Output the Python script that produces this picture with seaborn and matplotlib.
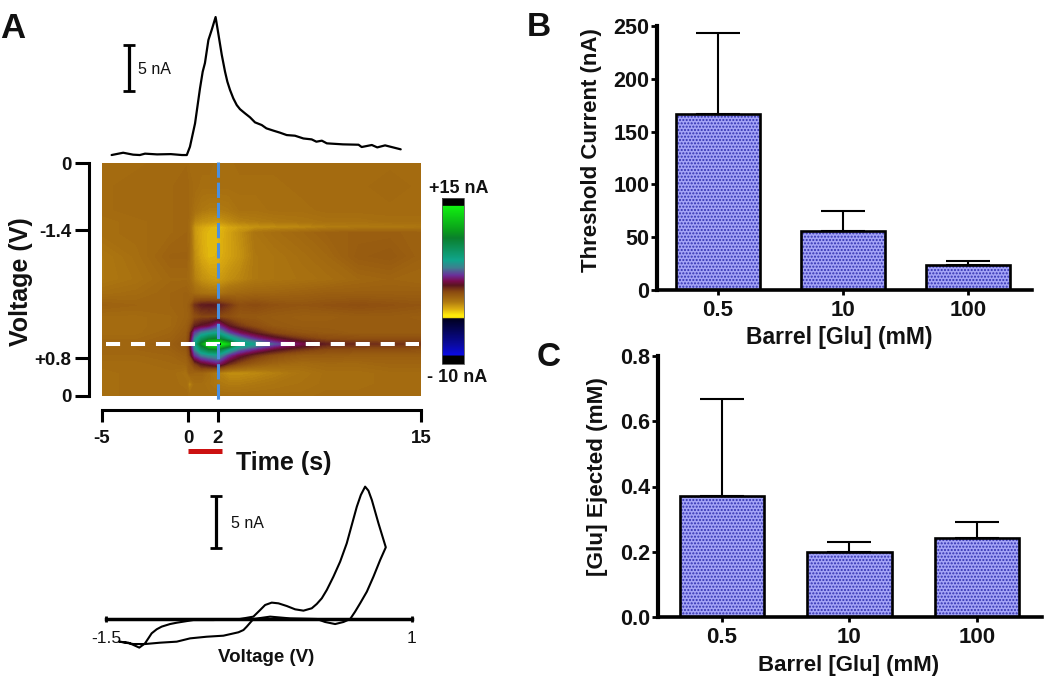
import matplotlib

matplotlib.use("Agg")
import matplotlib.pyplot as plt
import numpy as np
import seaborn as sns
from matplotlib.cm import ScalarMappable
from matplotlib.colors import LinearSegmentedColormap, Normalize

W, H = 1050, 687

# panel A, top trace
trace_t = [-4.44, -3.77, -3.19, -2.8, -2.5, -1.8, -1.0, -0.35, -0.07, 0.13, 0.47, 0.8, 0.98, 1.13, 1.36, 1.58, 1.84,
           2.02, 2.24, 2.45, 2.6, 2.77, 2.98, 3.2, 3.41, 3.73, 4.05, 4.37, 4.8, 5.1, 5.55, 5.97, 6.4, 6.93,
           7.47, 8.0, 8.3, 8.65, 8.97, 10.0, 11.0, 11.2, 11.85, 12.2, 12.7, 13.7]
trace_na = [0, 0.25, 0.04, 0, 0.15, 0.07, 0.1, 0, 0, 0.9, 3.44, 7.25, 9.06, 10, 12.5, 13.6, 15,
            13.2, 10.9, 9.06, 7.97, 7.07, 6.16, 5.43, 4.98, 4.53, 4.1, 3.55, 3.26, 2.9, 2.65, 2.43, 2.17, 2.1,
            1.8, 1.7, 1.45, 1.56, 1.27, 1.16, 1.12, 0.87, 1.09, 0.83, 1.05, 0.62]

# panel A, colour plot (nA), rows = position in the scan (%), columns = time (s)
heat_t = [-5, -3, -1, -0.1, 0.1, 0.45, 0.9, 1.4, 2, 2.7, 3.4, 4.4, 5.6, 7.4, 9, 11, 13, 15]
heat_scan = [0, 10, 20, 25, 27.5, 30, 40, 50, 56, 61, 66, 70, 73, 75.5, 77.7, 80, 82.5, 86, 90, 95, 100]
heat_na = [
    [-.2, -.2, -.1, -.1, -.2, -.2, -.2, -.2, -.3, -.3, -.2, -.2, -.2, -.2, -.2, -.2, -.2, -.2],
    [-.2, -.1, -.1, 0, -.1, -.2, -.3, -.3, -.3, -.3, -.3, -.3, -.3, -.2, -.2, -.2, -.1, -.2],
    [-.2, -.1, -.1, 0, -.1, -.4, -.6, -.7, -.7, -.6, -.4, -.4, -.3, -.3, -.2, -.2, -.2, -.2],
    [-.3, -.2, -.1, 0, -.2, -.9, -1.1, -1.2, -1.3, -1.0, -.8, -.7, -.6, -.5, -.4, -.4, -.3, -.3],
    [-.3, -.2, -.1, 0, -.3, -1.3, -1.6, -1.8, -2.0, -1.6, -1.4, -1.2, -1.1, -1.0, -.8, -.7, -.7, -.6],
    [-.3, -.2, -.1, 0, -.2, -1.3, -1.7, -1.9, -1.9, -1.5, -1.1, -.5, -.3, -.1, .1, .2, .2, .1],
    [-.6, -.3, .1, .1, -.2, -1.1, -1.6, -1.9, -1.8, -1.5, -1.2, -.6, -.5, -.3, -.1, .3, .4, .1],
    [-.6, -.4, -.1, -.1, -.2, -.8, -1.1, -1.3, -1.4, -1.1, -.9, -.6, -.5, -.4, -.3, -.1, 0, -.1],
    [-.3, -.2, 0, .1, 0, -.2, -.4, -.5, -.5, -.2, -.1, 0, 0, .1, .2, .2, .2, .2],
    [.1, 0, 0, .1, .3, 1.3, 1.7, 1.8, 1.7, 1.2, .7, .8, .6, .5, .6, .7, .6, .5],
    [-.2, -.2, -.1, .1, .2, .7, .9, .9, .9, .7, .4, .4, .3, .2, .2, .3, .3, .2],
    [-.2, -.2, -.1, .2, .5, 1.6, 2.0, 2.3, 3.4, 1.8, 1.2, .7, .4, .3, .3, .3, .3, .3],
    [-.2, -.2, 0, .3, .9, 3.5, 4.6, 5.2, 5.7, 3.7, 2.6, 1.7, .9, .5, .4, .3, .3, .3],
    [-.1, -.1, .1, .4, 1.1, 4.6, 7.0, 8.5, 9.2, 6.3, 4.6, 3.2, 2.2, 1.2, .8, .7, .7, .7],
    [0, 0, .2, .5, 1.4, 5.2, 9.5, 13.5, 14.5, 11.5, 6.5, 5.3, 3.8, 2.4, 1.6, 1.4, 1.3, 1.2],
    [0, 0, .1, .4, 1.1, 4.5, 7.0, 8.5, 8.8, 5.8, 4.1, 3.0, 2.0, 1.2, .8, .7, .7, .6],
    [-.1, -.1, 0, .2, .8, 3.3, 4.4, 4.9, 5.2, 3.3, 2.2, 1.3, .7, .3, .3, .2, .2, .2],
    [-.2, -.2, -.1, 0, .3, 1.1, 1.9, 2.3, 2.9, 1.5, .8, .3, 0, -.2, -.1, -.1, 0, 0],
    [-.3, -.2, -.2, -.4, .1, 0, 0, -.3, -.8, -1.1, -1.1, -1.0, -.8, -.5, -.3, -.3, -.2, -.2],
    [-.3, -.2, -.2, -.3, -1.0, -.3, -.3, -.4, -.6, -.7, -.7, -.6, -.5, -.4, -.3, -.3, -.2, -.2],
    [-.3, -.2, -.2, -.2, -.3, -.3, -.3, -.3, -.3, -.3, -.3, -.3, -.3, -.3, -.2, -.2, -.2, -.2],
]
time_ticks = [-5, 0, 2, 15]
time_positions = [0, 86, 116, 319]  # the drawn time axis is not linear
voltage_ticks = [0, 28.8, 83.7, 100]
voltage_labels = ["0", "-1.4", "+0.8", "0"]

# panel A, voltammogram
cv_v = [-1.391, -1.317, -1.228, -1.181, -1.154, -1.127, -1.086, -1.045, -.977, -.922, -.786, -.623, -.405,
        -.296, -.241, -.2, -.146, -.091, -.023, .045, .113, .181, .222, .263, .304, .358, .413, .467, .508,
        .549, .582, .617, .644, .672, .726, .786, .74, .685, .631, .576, .535, .495, .44, .372, .29,
        .222, .004, -.159, -.296, -.35, -.377, -.418, -.541, -.677, -.813, -.922, -1.059, -1.181, -1.277, -1.391]
cv_na = [-2.2, -2.3, -2.78, -2.36, -1.88, -1.39, -1.0, -.74, -.49, -.36, -.1, -.1, 0,
         .23, .87, 1.36, 1.59, 1.52, 1.26, .94, .81, 1.04, 1.46, 2.01, 2.82, 4.11, 5.57, 7.35, 9.13,
         10.9, 12.04, 12.85, 12.46, 11.55, 9.29, 6.96, 5.73, 4.11, 2.65, 1.52, .71, 0, -.29, -.49, -.29,
         0, .06, .23, 0, -.74, -1.07, -1.29, -1.62, -1.72, -1.88, -2.2, -2.3, -2.43, -2.43, -2.2]

# panels B and C
barrel = ["0.5", "10", "100"]
threshold = [167, 56, 23.7]
threshold_err = [76, 19, 4]
ejected = [0.371, 0.2, 0.242]
ejected_err = [0.297, 0.03, 0.05]

heat_stops = [(0, "#000000"), (.045, "#000000"), (.056, "#0a0ae0"), (.115, "#0a0aa0"), (.2, "#05055a"),
              (.272, "#000020"), (.28, "#ffe80a"), (.295, "#ffe80a"), (.335, "#d8a810"), (.375, "#ae7810"),
              (.435, "#8a4a10"), (.475, "#5a1520"), (.5, "#7a0b4e"), (.535, "#6a2f9a"), (.58, "#3e7f8f"),
              (.625, "#10a58c"), (.76, "#0a7f2c"), (.8, "#0a9a1c"), (.95, "#10f010"), (.956, "#000000"),
              (1, "#000000")]

sns.set_theme(style="white")
plt.rcParams["font.family"] = ["Liberation Sans", "DejaVu Sans"]
plt.rcParams["hatch.linewidth"] = 1.0


def box(fig, left, top, right, bottom):
    return fig.add_axes([left / W, 1 - bottom / H, (right - left) / W, (bottom - top) / H])


def label(fig, x, y, text, size, weight="bold", rotation=0):
    fig.text(x / W, 1 - y / H, text, fontsize=size, fontweight=weight, rotation=rotation,
             ha="center", va="center", color="#111111")


def time_scale(ax):
    ax.set_xscale("function", functions=(
        lambda t: np.interp(t, time_ticks, time_positions),
        lambda p: np.interp(p, time_positions, time_ticks),
    ))
    ax.set_xlim(-5, 15)


def scale_bar(ax, x, low, high):
    ax.errorbar([x], [(low + high) / 2], yerr=[(high - low) / 2], color="black",
                elinewidth=2.3, capsize=4, capthick=2)


def bar_panel(ax, values, errors, ymax, yticks, ticklabels, xlim):
    sns.barplot(x=barrel, y=values, color="#a4a4f6", saturation=1, width=0.665, ax=ax,
                edgecolor="#3030b0", hatch=".....", linewidth=0)
    sns.barplot(x=barrel, y=values, fill=False, color="black", width=0.665, ax=ax,
                edgecolor="black", linewidth=1.9)
    ax.errorbar(range(3), values, yerr=[[0, 0, 0], errors], fmt="none", ecolor="black",
                elinewidth=1.5, capsize=15.5, capthick=1.5)
    ax.set_xlim(*xlim)
    ax.set_ylim(0, ymax)
    ax.set_yticks(yticks, ticklabels)
    sns.despine(ax=ax)
    ax.spines["left"].set_linewidth(3)
    ax.spines["bottom"].set_linewidth(2.6)
    ax.spines["left"].set_color("black")
    ax.spines["bottom"].set_color("black")
    ax.tick_params(axis="y", length=4.5, width=2, pad=1, labelsize=15.5, color="black", left=True)
    ax.tick_params(axis="x", length=3.5, width=2, pad=3.5, labelsize=16, color="black", bottom=True)
    for tick in ax.get_xticklabels() + ax.get_yticklabels():
        tick.set_fontweight("bold")
        tick.set_color("#111111")


fig = plt.figure(figsize=(W / 100, H / 100), dpi=100)

# top trace
ax_trace = box(fig, 102, 0, 421, 160)
sns.lineplot(x=trace_t, y=trace_na, color="black", linewidth=1.6, estimator=None, sort=False, ax=ax_trace)
time_scale(ax_trace)
ax_trace.set_ylim(-0.54, 16.85)
ax_trace.axis("off")
scale_bar(ax_trace, -3.43, 6.96, 11.96)
label(fig, 154, 70, "5 nA", 11.5, "normal")

# colour plot
cmap = LinearSegmentedColormap.from_list("fscv", heat_stops, N=1024)
norm = Normalize(-10, 15)
ax_heat = box(fig, 102, 163, 421, 396)
ax_heat.contourf(heat_t, heat_scan, heat_na, levels=np.linspace(-10, 15, 301), cmap=cmap, norm=norm,
                 antialiased=False)
time_scale(ax_heat)
ax_heat.set_ylim(100, 0)
ax_heat.grid(False)
ax_heat.set_xticks(time_ticks, [str(t) for t in time_ticks])
ax_heat.set_yticks(voltage_ticks, voltage_labels)
ax_heat.minorticks_off()
for side in ["top", "right"]:
    ax_heat.spines[side].set_visible(False)
ax_heat.spines["left"].set_position(("outward", 9.4))
ax_heat.spines["bottom"].set_position(("outward", 10))
for side in ["left", "bottom"]:
    ax_heat.spines[side].set_linewidth(2.2)
    ax_heat.spines[side].set_color("black")
ax_heat.tick_params(axis="y", left=True, length=10, width=2.2, pad=2.5, labelsize=13.5, color="black")
ax_heat.tick_params(axis="x", bottom=True, length=8.6, width=2.2, pad=6, labelsize=13.5, color="black")
for tick in ax_heat.get_xticklabels() + ax_heat.get_yticklabels():
    tick.set_fontweight("bold")
    tick.set_color("#111111")
ax_heat.axhline(77.7, 0.012, 0.995, color="white", linewidth=2.9, linestyle=(0, (3.5, 2.7)))
ax_heat.plot([2, 2], [-0.4, 102.5], color="#4a90e0", linewidth=2.2, linestyle=(0, (5, 1.6)), clip_on=False)
ax_heat.plot([0, 2.26], [123.8, 123.8], color="#cc1111", linewidth=3.6, clip_on=False, solid_capstyle="butt")
label(fig, 284, 463, "Time (s)", 18)
label(fig, 21, 282, "Voltage (V)", 18, rotation=90)

# colour scale
ax_scale = box(fig, 442, 198, 464, 364)
bar = fig.colorbar(ScalarMappable(norm=norm, cmap=cmap), cax=ax_scale)
bar.set_ticks([])
bar.outline.set_linewidth(0.6)
bar.outline.set_edgecolor("#555555")
label(fig, 459, 188, "+15 nA", 13)
label(fig, 457, 378, "- 10 nA", 13)

# voltammogram
ax_cv = box(fig, 106, 480, 412, 655)
sns.lineplot(x=cv_v, y=cv_na, color="black", linewidth=1.5, estimator=None, sort=False, ax=ax_cv)
ax_cv.set_xlim(-1.5, 1)
ax_cv.set_ylim((619 - 655) / 10.3, (619 - 480) / 10.3)
ax_cv.set_xticks([-1.5, 1], ["-1.5", "1"])
ax_cv.set_yticks([])
for side in ["top", "right", "left"]:
    ax_cv.spines[side].set_visible(False)
ax_cv.spines["bottom"].set_position(("data", 0))
ax_cv.spines["bottom"].set_linewidth(2.5)
ax_cv.spines["bottom"].set_color("black")
ax_cv.tick_params(axis="x", bottom=True, direction="inout", length=5, width=2, pad=6, labelsize=12.5,
                  color="black", labelcolor="#111111")
scale_bar(ax_cv, -0.6, 6.9, 11.9)
label(fig, 247, 523, "5 nA", 11.5, "normal")
label(fig, 266, 657, "Voltage (V)", 13.5)

# panel B
ax_b = box(fig, 657, 26, 1032, 290)
bar_panel(ax_b, threshold, threshold_err, 250, [0, 50, 100, 150, 200, 250],
          ["0", "50", "100", "150", "200", "250"], (-0.488, 2.512))
label(fig, 839, 337, "Barrel [Glu] (mM)", 16.5)
label(fig, 591, 150, "Threshold Current (nA)", 16, rotation=90)

# panel C
ax_c = box(fig, 658, 356, 1042, 617)
bar_panel(ax_c, ejected, ejected_err, 0.8, [0, 0.2, 0.4, 0.6, 0.8],
          ["0.0", "0.2", "0.4", "0.6", "0.8"], (-0.502, 2.51))
label(fig, 849, 665, "Barrel [Glu] (mM)", 16)
label(fig, 598, 477, "[Glu] Ejected (mM)", 16.2, rotation=90)

label(fig, 13, 28, "A", 25)
label(fig, 539, 28, "B", 24)
label(fig, 549, 357, "C", 24)

fig.savefig("out.png", dpi=100)
